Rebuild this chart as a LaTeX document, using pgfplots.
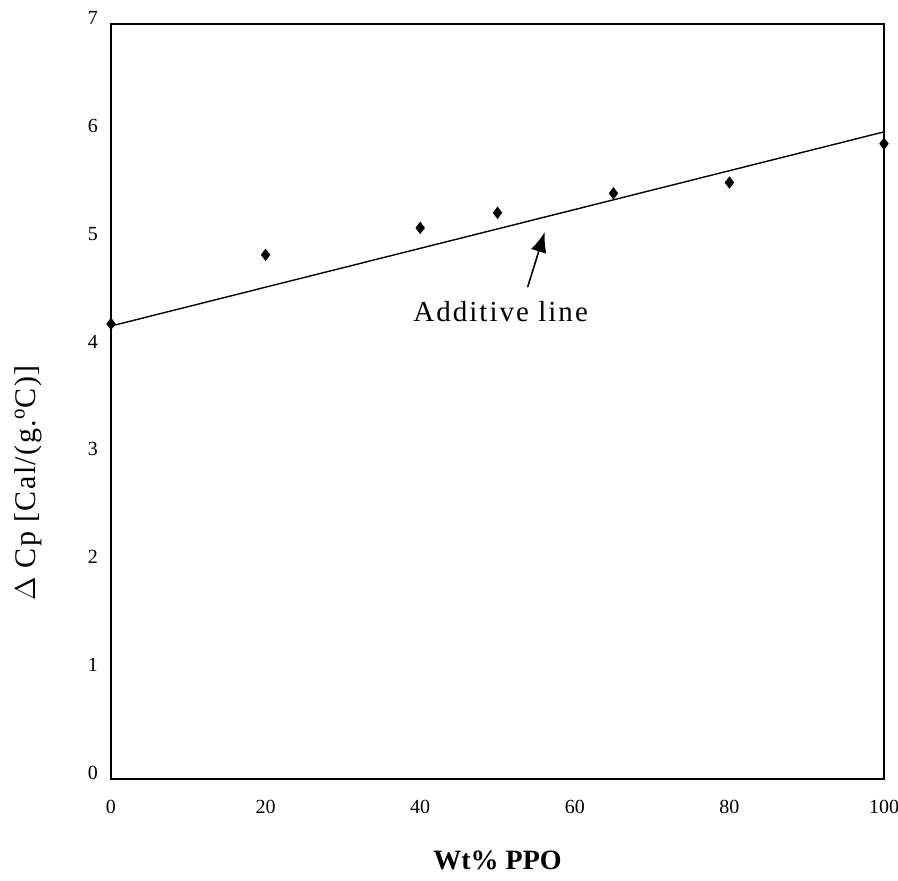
\documentclass[border=0pt]{standalone}
\usepackage{fontspec}
\setmainfont{Liberation Serif}
\usepackage{pgfplots}
\pgfplotsset{compat=1.18}
\usetikzlibrary{arrows.meta}

\begin{document}
\begin{tikzpicture}
\path[use as bounding box] (-55.5pt,-50.5pt) rectangle (393.5pt,389.5pt);
\begin{axis}[
    scale only axis,
    width=386.5pt, height=377.5pt,
    xmin=0, xmax=100, ymin=0, ymax=7,
    xtick={0,20,40,60,80,100},
    ytick={0,1,2,3,4,5,6,7},
    major tick length=0pt,
    tick label style={font=\fontsize{10}{12}\selectfont},
    /pgf/number format/assume math mode=true,
    xticklabel style={yshift=-7pt},
    yticklabel style={xshift=-3pt, yshift=3pt},
    axis line style={line width=0.8pt},
    xlabel={\bfseries Wt\% PPO},
    ylabel={\addfontfeature{LetterSpace=5}$\Delta$ Cp [Cal/(g.$^{\mathrm{o}}$C)]},
    xlabel style={font=\fontsize{14}{16}\selectfont, at={(axis description cs:0.5,0)}, anchor=center, yshift=-40.5pt},
    ylabel style={font=\fontsize{15}{17}\selectfont, at={(axis description cs:0,0.392)}, anchor=center, rotate=0, yshift=41.5pt},
    clip=false
]
\addplot[black, line width=0.7pt, no marks] coordinates {(0,4.2) (100,6.0)};
\addplot[only marks, mark=diamond*, mark size=2.8pt, black] coordinates {
    (0,4.22) (20,4.86) (40,5.11) (50,5.25) (65,5.43) (80,5.53) (100,5.89)
};
\draw[-{Latex[length=10pt,width=8pt]}, line width=0.8pt] (axis cs:53.9,4.56) -- (axis cs:56.1,5.07);
\node[font=\fontsize{14.5}{17}\selectfont] at (axis cs:50.4,4.33) {\addfontfeature{LetterSpace=7}Additive line};
\end{axis}
\end{tikzpicture}
\end{document}
